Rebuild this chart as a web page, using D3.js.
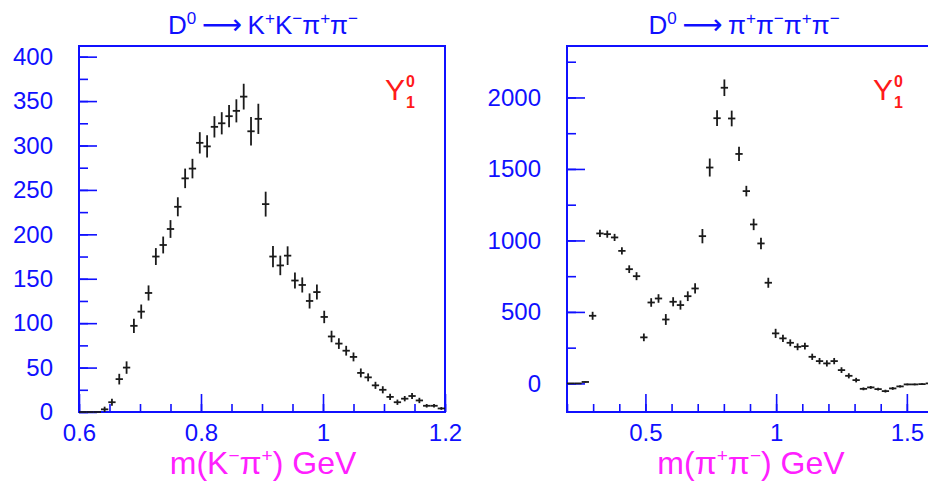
<!DOCTYPE html>
<meta charset="utf-8">
<style>
  body { margin: 0; background: #fff; }
  text { font-family: "Liberation Sans", Arial, "DejaVu Sans", sans-serif; }
</style>
<body id="chart"></body>
<script src="https://cdn.jsdelivr.net/npm/d3@7"></script>
<script>
var width = 928, height = 484;

// left histogram: m(K-pi+), 50 bins from 0.6 to 1.2
var kpiRange = [0.6, 1.2];
var kpiCounts = [0, 0, 0, 3, 11, 37, 50, 97, 113, 134,
  175, 188, 206, 231, 263, 274, 303, 299, 321, 325,
  333, 339, 355, 316, 330, 234, 175, 165, 176, 148,
  143, 125, 135, 107, 85, 77, 69, 62, 44, 39,
  30, 25, 17, 11, 15, 18, 13, 7, 7, 4];
var kpiErrors = [0, 0, 0, 3, 4, 6, 7, 8, 8, 8.5,
  9.5, 9.5, 10, 10.7, 11, 11, 12, 12.5, 12, 12.5,
  12.5, 13, 14.5, 16, 17, 14, 12, 11, 10.5, 9,
  8.5, 8.5, 8.5, 7, 6.5, 6, 5.5, 5, 5, 4.5,
  4, 4, 3.5, 3, 3, 3.5, 3, 2, 2, 1.5];
var kpiXTicks = [0.6, 0.8, 1, 1.2];
var kpiYTicks = [0, 50, 100, 150, 200, 250, 300, 350, 400];

// right histogram: m(pi+pi-), 50 bins from 0.2 to 1.6
var pipiRange = [0.2, 1.6];
var pipiCounts = [0, 0, 10, 473, 1049, 1044, 1021, 927, 799, 750,
  322, 566, 594, 447, 571, 548, 610, 664, 1030, 1510,
  1855, 2068, 1853, 1605, 1345, 1112, 979, 704, 350, 315,
  284, 256, 261, 186, 156, 140, 156, 93, 53, 23,
  -38, -28, -40, -54, -35, -21, -7, -7, -5, 0];
var pipiErrors = [0, 0, 4, 28, 25, 25, 25, 25, 27, 28,
  27, 30, 30, 38, 32, 32, 34, 36, 50, 63,
  55, 58, 55, 50, 37, 40, 40, 35, 32, 25,
  24, 24, 24, 22, 22, 22, 22, 20, 18, 16,
  10, 10, 10, 10, 10, 8, 6, 6, 6, 5];
var pipiXTicks = [0.5, 1, 1.5];
var pipiYTicks = [0, 500, 1000, 1500, 2000];

var svg = d3.select("#chart").append("svg")
    .attr("width", width)
    .attr("height", height);

var blue = "#1010ff";

function drawPanel(opt) {
  var x = d3.scaleLinear().domain(opt.xDomain).range([opt.left, opt.left + 366]);
  var y = d3.scaleLinear().domain(opt.yDomain).range([412, 46]);
  var g = svg.append("g");

  // minor ticks
  var yMinorTicks = d3.range(Math.ceil(opt.yDomain[0] / opt.yMinor) * opt.yMinor, opt.yDomain[1], opt.yMinor);
  g.append("g")
      .attr("transform", "translate(" + opt.left + ",0)")
      .call(d3.axisLeft(y).tickValues(yMinorTicks)
        .tickSizeInner(-9).tickSizeOuter(0).tickFormat(""))
      .call(function (a) { a.select(".domain").remove(); });
  g.append("g")
      .attr("transform", "translate(0,412)")
      .call(d3.axisBottom(x).tickValues(d3.range(opt.xDomain[0], opt.xDomain[1] + 1e-9, opt.xMinor))
        .tickSizeInner(-8).tickSizeOuter(0).tickFormat(""))
      .call(function (a) { a.select(".domain").remove(); });

  // major ticks with labels
  g.append("g")
      .attr("transform", "translate(" + opt.left + ",0)")
      .call(d3.axisLeft(y).tickValues(opt.yTicks).tickSizeInner(-18).tickSizeOuter(0)
        .tickPadding(26).tickFormat(d3.format("d")))
      .call(function (a) { a.select(".domain").remove(); });
  g.append("g")
      .attr("transform", "translate(0,412)")
      .call(d3.axisBottom(x).tickValues(opt.xMajor).tickSizeInner(-18).tickSizeOuter(0)
        .tickPadding(12).tickFormat(function (d) {
          return opt.xTicks.indexOf(d) >= 0 ? String(+d.toFixed(2)) : "";
        }))
      .call(function (a) { a.select(".domain").remove(); });

  g.selectAll(".tick line").attr("stroke", blue).attr("stroke-width", 1.6);
  g.selectAll(".tick text").attr("fill", blue).style("font-size", "24px")
      .style("font-family", "'Liberation Sans', Arial, sans-serif");

  // frame
  g.append("rect")
      .attr("x", opt.left).attr("y", 46)
      .attr("width", 366).attr("height", 366)
      .attr("fill", "none").attr("stroke", blue).attr("stroke-width", 2);

  // histogram points with error bars
  var n = opt.counts.length;
  var bw = (opt.xDomain[1] - opt.xDomain[0]) / n;
  var bins = opt.counts.map(function (c, i) {
    return { lo: opt.xDomain[0] + i * bw, hi: opt.xDomain[0] + (i + 1) * bw, v: c, e: opt.errors[i] };
  });
  var pts = g.append("g").attr("stroke", "#1a1a1a").attr("stroke-width", 1.8);
  pts.selectAll(".hbar").data(bins).enter().append("line")
      .attr("x1", function (d) { return x(d.lo); })
      .attr("x2", function (d) { return x(d.hi); })
      .attr("y1", function (d) { return y(d.v); })
      .attr("y2", function (d) { return y(d.v); });
  pts.selectAll(".vbar").data(bins.filter(function (d) { return d.e > 0; })).enter().append("line")
      .attr("x1", function (d) { return x((d.lo + d.hi) / 2); })
      .attr("x2", function (d) { return x((d.lo + d.hi) / 2); })
      .attr("y1", function (d) { return y(d.v - d.e); })
      .attr("y2", function (d) { return y(d.v + d.e); });

  // title
  var t = svg.append("text")
      .attr("x", opt.titleX).attr("y", 34)
      .attr("text-anchor", "middle")
      .attr("fill", blue)
      .style("font-size", "26px");
  opt.title.forEach(function (p) {
    var s = t.append("tspan").text(p[0]);
    if (p[1] === "sup") s.attr("dy", -10).style("font-size", "17px");
    if (p[1] === "base") s.attr("dy", 10);
    if (p[1] === "arrow") s.attr("dy", 10).style("font-family", "'DejaVu Sans', sans-serif")
        .style("font-size", "28px");
  });

  // Y_1^0 label
  svg.append("text").attr("x", opt.left + 306).attr("y", 100)
      .attr("fill", "#ff1a1a").style("font-size", "30px").text("Y");
  svg.append("text").attr("x", opt.left + 327).attr("y", 87)
      .attr("fill", "#ff1a1a").style("font-size", "16px").style("font-weight", "bold").text("0");
  svg.append("text").attr("x", opt.left + 327).attr("y", 108)
      .attr("fill", "#ff1a1a").style("font-size", "16px").style("font-weight", "bold").text("1");

  // x axis label
  var xl = svg.append("text")
      .attr("x", opt.xLabelX).attr("y", 474)
      .attr("text-anchor", "middle")
      .attr("fill", "#ff20ff")
      .style("font-size", "32px");
  opt.xLabel.forEach(function (p) {
    var s = xl.append("tspan").text(p[0]);
    if (p[1] === "sup") s.attr("dy", -12).style("font-size", "19px");
    if (p[1] === "base") s.attr("dy", 12);
  });
}

drawPanel({
  left: 79, xDomain: kpiRange, yDomain: [0, 412],
  counts: kpiCounts, errors: kpiErrors,
  yTicks: kpiYTicks, yMinor: 25,
  xTicks: kpiXTicks, xMajor: [0.6, 0.8, 1, 1.2], xMinor: 0.05,
  titleX: 263,
  title: [["D"], ["0", "sup"], ["\u2009\u27F6\u2009", "arrow"], ["K"], ["+", "sup"], ["K", "base"], ["\u2212", "sup"],
          ["\u03C0", "base"], ["+", "sup"], ["\u03C0", "base"], ["\u2212", "sup"]],
  xLabelX: 263,
  xLabel: [["m(K"], ["\u2212", "sup"], ["\u03C0", "base"], ["+", "sup"], [") GeV", "base"]]
});

drawPanel({
  left: 567, xDomain: pipiRange, yDomain: [-200, 2360],
  counts: pipiCounts, errors: pipiErrors,
  yTicks: pipiYTicks, yMinor: 250,
  xTicks: pipiXTicks, xMajor: [0.5, 1, 1.5], xMinor: 0.1,
  titleX: 744,
  title: [["D"], ["0", "sup"], ["\u2009\u27F6\u2009", "arrow"], ["\u03C0"], ["+", "sup"], ["\u03C0", "base"], ["\u2212", "sup"],
          ["\u03C0", "base"], ["+", "sup"], ["\u03C0", "base"], ["\u2212", "sup"]],
  xLabelX: 751,
  xLabel: [["m(\u03C0"], ["+", "sup"], ["\u03C0", "base"], ["\u2212", "sup"], [") GeV", "base"]]
});
</script>
